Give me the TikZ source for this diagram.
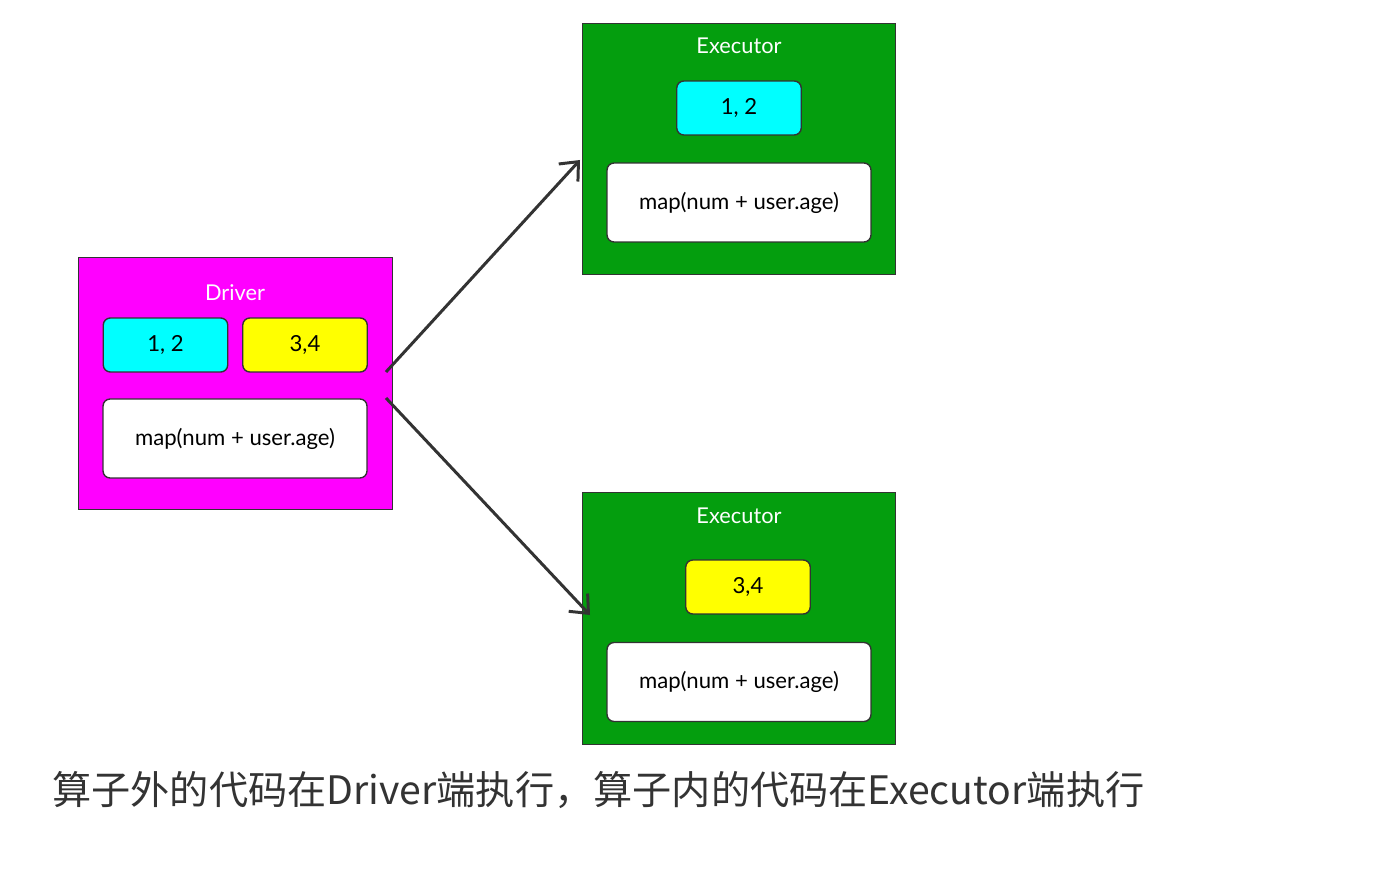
\documentclass[tikz,border=0pt]{standalone}
\usepackage{fontspec}
\setmainfont{Lato}
\newfontfamily\cjk{Noto Sans CJK SC}
\usetikzlibrary{arrows.meta,positioning}
\definecolor{drvc}{HTML}{FF00FF}
\definecolor{exec}{HTML}{049E0E}
\definecolor{cyanc}{HTML}{00FFFF}
\definecolor{yelc}{HTML}{FFFF00}
\definecolor{linec}{HTML}{333333}
\tikzset{
  frame/.style  ={draw=linec,line width=0.8pt,minimum width=6.27cm,minimum height=5.03cm},
  drvbox/.style ={frame,fill=drvc},
  exebox/.style ={frame,fill=exec},
  title/.style  ={text=white,font=\fontsize{12.4}{14}\selectfont},
  part/.style   ={draw=linec,line width=0.8pt,rounded corners=4pt,minimum width=2.49cm,
                  minimum height=1.08cm,font=\fontsize{12.6}{14}\selectfont},
  ones/.style   ={part,fill=cyanc},
  twos/.style   ={part,fill=yelc},
  code/.style   ={part,fill=white,minimum width=5.28cm,minimum height=1.58cm},
  flow/.style   ={-{Straight Barb[length=3mm,width=5.2mm,line width=1.7pt]},line width=1.7pt,linec},
}
\begin{document}
\begin{tikzpicture}[x=0.02cm,y=-0.02cm]
  \useasboundingbox (0,0) rectangle (1400,895);
  % driver side
  \node[drvbox] (drv) at (235.5,383.5) {};
  \node[title]  (drvt) at (235,293) {Driver};
  \node[ones]   (d1) at (165.5,345) {1, 2};
  \node[twos]   (d2) at (305,345) {3,4};
  \node[code]   (dm) at (235,438.5) {map(num + user.age)};
  % executors
  \node[exebox] (ea) at (739,149) {};
  \node[title]  (eat) at (739,46) {Executor};
  \node[ones]   (ea1) at (739,108) {1, 2};
  \node[code]   (eam) at (739,202.5) {map(num + user.age)};
  \node[exebox] (eb) at (739,618.5) {};
  \node[title]  (ebt) at (739,516) {Executor};
  \node[twos]   (eb1) at (748,587) {3,4};
  \node[code]   (ebm) at (739,682) {map(num + user.age)};
  % arrows
  \coordinate (s1) at (386,372);
  \coordinate (s2) at (386,398);
  \coordinate (t1) at (580,160);
  \coordinate (t2) at (590,615);
  \draw[flow] (s1) -- (t1);
  \draw[flow] (s2) -- (t2);
  % caption
  \node[anchor=base west,inner sep=0pt,text=linec,font=\cjk\fontsize{22.3}{26}\selectfont]
       (cap) at (52,804) {算子外的代码在Driver端执行，算子内的代码在Executor端执行};
\end{tikzpicture}
\end{document}
